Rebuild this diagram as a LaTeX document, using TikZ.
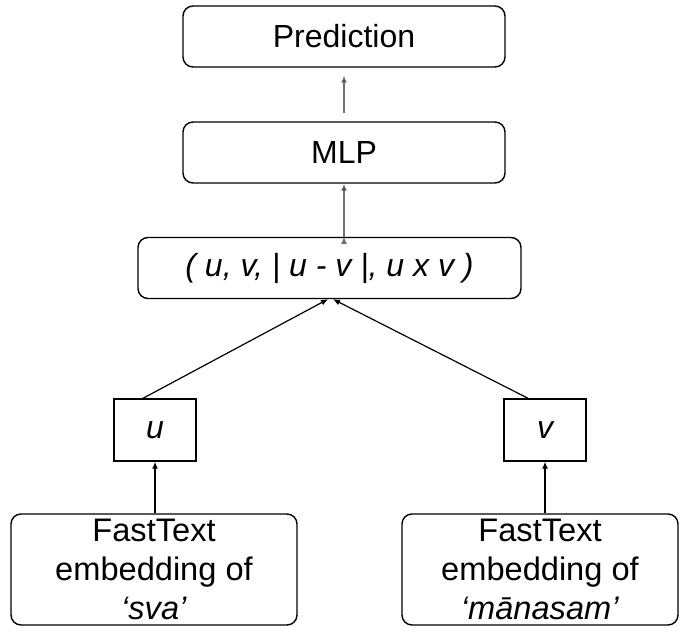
\documentclass[tikz,border=0pt]{standalone}
\usepackage{fontspec}
\setmainfont{Liberation Sans}
\usepackage{xcolor}
\usepackage{tikz}
\usetikzlibrary{arrows.meta, positioning, calc}

\definecolor{arrowgray}{HTML}{707070}

\begin{document}
\begin{tikzpicture}[
                x=0.5pt, y=-0.5pt,
                font=\fontsize{16}{19.5}\selectfont,
                block/.style={draw, rounded corners=5pt, line width=0.7pt, inner sep=0pt},
                vecbox/.style={draw, line width=0.7pt, inner sep=0pt, minimum width=41pt, minimum height=31pt},
                embed/.style={block, minimum height=55.5pt, align=center, font=\fontsize{16.3}{19.5}\selectfont},
                link/.style={-{Latex[length=3.5pt,width=3pt]}, line width=0.6pt},
                greylink/.style={link, draw=arrowgray}
            ]
                \useasboundingbox (0,0) rectangle (680,626);

                % Nodes
                \node[block, minimum width=161pt, minimum height=30.5pt] (pred) at (344,36.5) {Prediction};
                \node[block, minimum width=161pt, minimum height=30.5pt] (mlp) at (344,152.5) {MLP};
                \node[block, minimum width=191.5pt, minimum height=30.5pt] (tup) at (329.5,268)
                    {\itshape ( u, v, | u - v |, u x v )};
                \node[vecbox] (u) at (155,430) {\itshape u};
                \node[vecbox] (v) at (545,430) {\itshape v};
                \node[embed, minimum width=143pt] (ftsva) at (154,569.5)
                    {FastText\\embedding of\\\textit{‘sva’}};
                \node[embed, minimum width=138pt] (ftmana) at (540,569.5)
                    {FastText\\embedding of\\\textit{‘mānasam’}};

                % Edges
                \path[greylink, shorten <=4pt, shorten >=4pt]
                    (mlp) edge (pred);
                \path[greylink]
                    (tup.north -| mlp) edge (mlp);
                \path[link]
                    ($(u.north)+(-12,0)$) edge ($(tup.south)+(-1.5,0)$)
                    ($(v.north)+(-17,0)$) edge ($(tup.south)+(3.5,0)$)
                    (ftsva.north -| u) edge (u)
                    (ftmana.north -| v) edge (v);
            \end{tikzpicture}
\end{document}
